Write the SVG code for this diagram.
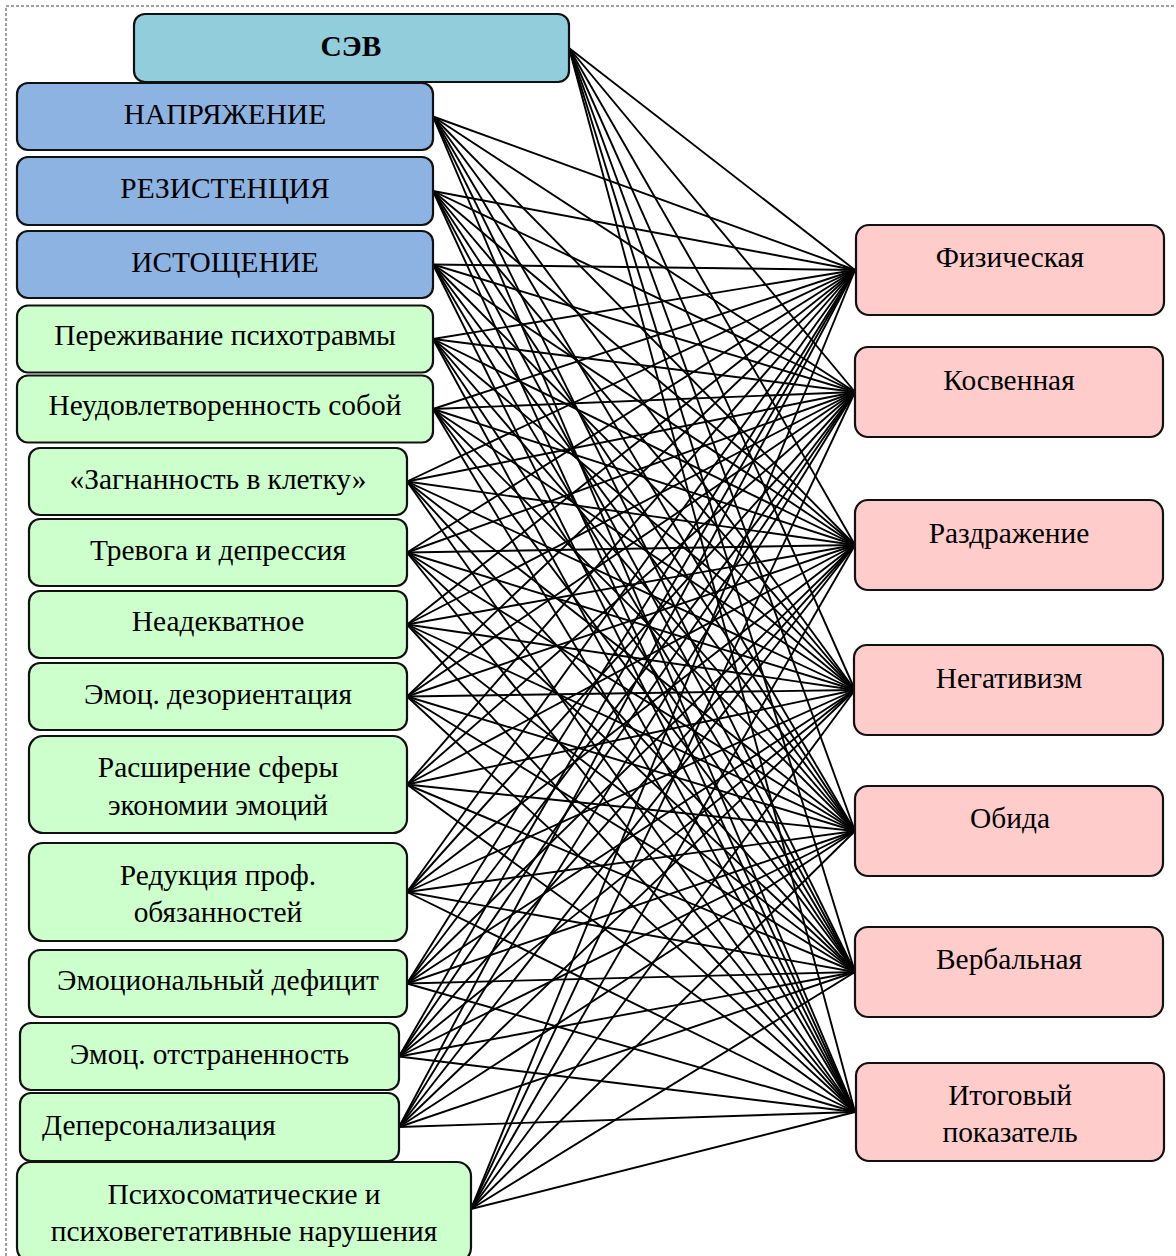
<svg xmlns="http://www.w3.org/2000/svg" width="1176" height="1256" viewBox="0 0 1176 1256">
<style>
.bx{stroke:#111;stroke-width:2.2}
.sev{fill:#92CDDC}
.blue{fill:#8DB3E2}
.green{fill:#CCFFCC}
.pink{fill:#FFCCCC}
.t{font-family:"Liberation Serif","Times New Roman",serif;font-size:29.4px;fill:#000;text-anchor:middle}
.b{font-weight:bold}
.c line{stroke:#000;stroke-width:1.9}
</style>
<rect width="1176" height="1256" fill="#fff"/>
<path d="M6 1256 V6 H1176" fill="none" stroke="#444" stroke-width="1" stroke-dasharray="3 2"/>
<g id="connectors" class="c">
<line x1="569" y1="48" x2="855" y2="270"/><line x1="569" y1="48" x2="855" y2="392"/><line x1="569" y1="48" x2="855" y2="545"/><line x1="569" y1="48" x2="855" y2="690"/><line x1="569" y1="48" x2="855" y2="831"/><line x1="569" y1="48" x2="855" y2="972"/><line x1="569" y1="48" x2="855" y2="1112"/>
<line x1="433" y1="116.5" x2="855" y2="270"/><line x1="433" y1="116.5" x2="855" y2="392"/><line x1="433" y1="116.5" x2="855" y2="545"/><line x1="433" y1="116.5" x2="855" y2="690"/><line x1="433" y1="116.5" x2="855" y2="831"/><line x1="433" y1="116.5" x2="855" y2="972"/><line x1="433" y1="116.5" x2="855" y2="1112"/>
<line x1="433" y1="191" x2="855" y2="270"/><line x1="433" y1="191" x2="855" y2="392"/><line x1="433" y1="191" x2="855" y2="545"/><line x1="433" y1="191" x2="855" y2="690"/><line x1="433" y1="191" x2="855" y2="831"/><line x1="433" y1="191" x2="855" y2="972"/><line x1="433" y1="191" x2="855" y2="1112"/>
<line x1="433" y1="264.5" x2="855" y2="270"/><line x1="433" y1="264.5" x2="855" y2="392"/><line x1="433" y1="264.5" x2="855" y2="545"/><line x1="433" y1="264.5" x2="855" y2="690"/><line x1="433" y1="264.5" x2="855" y2="831"/><line x1="433" y1="264.5" x2="855" y2="972"/><line x1="433" y1="264.5" x2="855" y2="1112"/>
<line x1="433" y1="339" x2="855" y2="270"/><line x1="433" y1="339" x2="855" y2="392"/><line x1="433" y1="339" x2="855" y2="545"/><line x1="433" y1="339" x2="855" y2="690"/><line x1="433" y1="339" x2="855" y2="831"/><line x1="433" y1="339" x2="855" y2="972"/><line x1="433" y1="339" x2="855" y2="1112"/>
<line x1="433" y1="409" x2="855" y2="270"/><line x1="433" y1="409" x2="855" y2="392"/><line x1="433" y1="409" x2="855" y2="545"/><line x1="433" y1="409" x2="855" y2="690"/><line x1="433" y1="409" x2="855" y2="831"/><line x1="433" y1="409" x2="855" y2="972"/><line x1="433" y1="409" x2="855" y2="1112"/>
<line x1="407" y1="481.5" x2="855" y2="270"/><line x1="407" y1="481.5" x2="855" y2="392"/><line x1="407" y1="481.5" x2="855" y2="545"/><line x1="407" y1="481.5" x2="855" y2="690"/><line x1="407" y1="481.5" x2="855" y2="831"/><line x1="407" y1="481.5" x2="855" y2="972"/><line x1="407" y1="481.5" x2="855" y2="1112"/>
<line x1="407" y1="552.5" x2="855" y2="270"/><line x1="407" y1="552.5" x2="855" y2="392"/><line x1="407" y1="552.5" x2="855" y2="545"/><line x1="407" y1="552.5" x2="855" y2="690"/><line x1="407" y1="552.5" x2="855" y2="831"/><line x1="407" y1="552.5" x2="855" y2="972"/><line x1="407" y1="552.5" x2="855" y2="1112"/>
<line x1="407" y1="624.5" x2="855" y2="270"/><line x1="407" y1="624.5" x2="855" y2="392"/><line x1="407" y1="624.5" x2="855" y2="545"/><line x1="407" y1="624.5" x2="855" y2="690"/><line x1="407" y1="624.5" x2="855" y2="831"/><line x1="407" y1="624.5" x2="855" y2="972"/><line x1="407" y1="624.5" x2="855" y2="1112"/>
<line x1="407" y1="696.5" x2="855" y2="270"/><line x1="407" y1="696.5" x2="855" y2="392"/><line x1="407" y1="696.5" x2="855" y2="545"/><line x1="407" y1="696.5" x2="855" y2="690"/><line x1="407" y1="696.5" x2="855" y2="831"/><line x1="407" y1="696.5" x2="855" y2="972"/><line x1="407" y1="696.5" x2="855" y2="1112"/>
<line x1="407" y1="784.5" x2="855" y2="270"/><line x1="407" y1="784.5" x2="855" y2="392"/><line x1="407" y1="784.5" x2="855" y2="545"/><line x1="407" y1="784.5" x2="855" y2="690"/><line x1="407" y1="784.5" x2="855" y2="831"/><line x1="407" y1="784.5" x2="855" y2="972"/><line x1="407" y1="784.5" x2="855" y2="1112"/>
<line x1="407" y1="892" x2="855" y2="270"/><line x1="407" y1="892" x2="855" y2="392"/><line x1="407" y1="892" x2="855" y2="545"/><line x1="407" y1="892" x2="855" y2="690"/><line x1="407" y1="892" x2="855" y2="831"/><line x1="407" y1="892" x2="855" y2="972"/><line x1="407" y1="892" x2="855" y2="1112"/>
<line x1="407" y1="983.5" x2="855" y2="270"/><line x1="407" y1="983.5" x2="855" y2="392"/><line x1="407" y1="983.5" x2="855" y2="545"/><line x1="407" y1="983.5" x2="855" y2="690"/><line x1="407" y1="983.5" x2="855" y2="831"/><line x1="407" y1="983.5" x2="855" y2="972"/><line x1="407" y1="983.5" x2="855" y2="1112"/>
<line x1="399" y1="1056.5" x2="855" y2="270"/><line x1="399" y1="1056.5" x2="855" y2="392"/><line x1="399" y1="1056.5" x2="855" y2="545"/><line x1="399" y1="1056.5" x2="855" y2="690"/><line x1="399" y1="1056.5" x2="855" y2="831"/><line x1="399" y1="1056.5" x2="855" y2="972"/><line x1="399" y1="1056.5" x2="855" y2="1112"/>
<line x1="399" y1="1127" x2="855" y2="270"/><line x1="399" y1="1127" x2="855" y2="392"/><line x1="399" y1="1127" x2="855" y2="545"/><line x1="399" y1="1127" x2="855" y2="690"/><line x1="399" y1="1127" x2="855" y2="831"/><line x1="399" y1="1127" x2="855" y2="972"/><line x1="399" y1="1127" x2="855" y2="1112"/>
<line x1="471" y1="1209" x2="855" y2="270"/><line x1="471" y1="1209" x2="855" y2="392"/><line x1="471" y1="1209" x2="855" y2="545"/><line x1="471" y1="1209" x2="855" y2="690"/><line x1="471" y1="1209" x2="855" y2="831"/><line x1="471" y1="1209" x2="855" y2="972"/><line x1="471" y1="1209" x2="855" y2="1112"/>
</g>
<g id="n-sev"><rect class="bx sev" x="134" y="14" width="435" height="68" rx="11"/><text class="t b" x="351" y="56">СЭВ</text></g>
<g id="n-napr"><rect class="bx blue" x="17" y="83" width="416" height="67" rx="11"/><text class="t" x="225" y="124">НАПРЯЖЕНИЕ</text></g>
<g id="n-rez"><rect class="bx blue" x="17" y="157" width="416" height="68" rx="11"/><text class="t" x="225" y="198">РЕЗИСТЕНЦИЯ</text></g>
<g id="n-ist"><rect class="bx blue" x="17" y="231" width="416" height="67" rx="11"/><text class="t" x="225" y="272">ИСТОЩЕНИЕ</text></g>
<g id="n-perezh"><rect class="bx green" x="17" y="305.5" width="416" height="67" rx="11"/><text class="t" x="225" y="345">Переживание психотравмы</text></g>
<g id="n-neud"><rect class="bx green" x="17" y="375.5" width="416" height="67" rx="11"/><text class="t" x="225" y="415">Неудовлетворенность собой</text></g>
<g id="n-zagn"><rect class="bx green" x="29" y="448" width="378" height="67" rx="11"/><text class="t" x="218" y="489">«Загнанность в клетку»</text></g>
<g id="n-trev"><rect class="bx green" x="29" y="519" width="378" height="67" rx="11"/><text class="t" x="218" y="560">Тревога и депрессия</text></g>
<g id="n-neadek"><rect class="bx green" x="29" y="591" width="378" height="67" rx="11"/><text class="t" x="218" y="631">Неадекватное</text></g>
<g id="n-dezor"><rect class="bx green" x="29" y="663" width="378" height="67" rx="11"/><text class="t" x="218" y="704">Эмоц. дезориентация</text></g>
<g id="n-rasshir"><rect class="bx green" x="29" y="736" width="378" height="97" rx="14"/><text class="t" x="218" y="777">Расширение сферы<tspan x="218" dy="38">экономии эмоций</tspan></text></g>
<g id="n-redukc"><rect class="bx green" x="29" y="843" width="378" height="98" rx="14"/><text class="t" x="218" y="885">Редукция проф.<tspan x="218" dy="37">обязанностей</tspan></text></g>
<g id="n-defic"><rect class="bx green" x="29" y="950" width="378" height="67" rx="11"/><text class="t" x="218" y="990">Эмоциональный дефицит</text></g>
<g id="n-otstr"><rect class="bx green" x="20" y="1023" width="379" height="67" rx="11"/><text class="t" x="209.5" y="1064">Эмоц. отстраненность</text></g>
<g id="n-depers"><rect class="bx green" x="20" y="1093" width="379" height="68" rx="11"/><text class="t" x="42" y="1135" style="text-anchor:start">Деперсонализация</text></g>
<g id="n-psiho"><rect class="bx green" x="17" y="1162" width="454" height="100" rx="14"/><text class="t" x="244" y="1204">Психосоматические и<tspan x="244" dy="37">психовегетативные нарушения</tspan></text></g>
<g id="n-fiz"><rect class="bx pink" x="856" y="225" width="308" height="90" rx="13"/><text class="t" x="1010" y="267">Физическая</text></g>
<g id="n-kosv"><rect class="bx pink" x="855" y="347" width="308" height="90" rx="13"/><text class="t" x="1009" y="390">Косвенная</text></g>
<g id="n-razdr"><rect class="bx pink" x="855" y="500" width="308" height="90" rx="13"/><text class="t" x="1009" y="543">Раздражение</text></g>
<g id="n-negat"><rect class="bx pink" x="854" y="645" width="309" height="90" rx="13"/><text class="t" x="1009" y="688">Негативизм</text></g>
<g id="n-obida"><rect class="bx pink" x="855" y="786" width="308" height="90" rx="13"/><text class="t" x="1010" y="828">Обида</text></g>
<g id="n-verb"><rect class="bx pink" x="855" y="927" width="308" height="90" rx="13"/><text class="t" x="1009" y="969">Вербальная</text></g>
<g id="n-itog"><rect class="bx pink" x="856" y="1063" width="308" height="98" rx="13"/><text class="t" x="1010" y="1105">Итоговый<tspan x="1010" dy="37">показатель</tspan></text></g>
</svg>
